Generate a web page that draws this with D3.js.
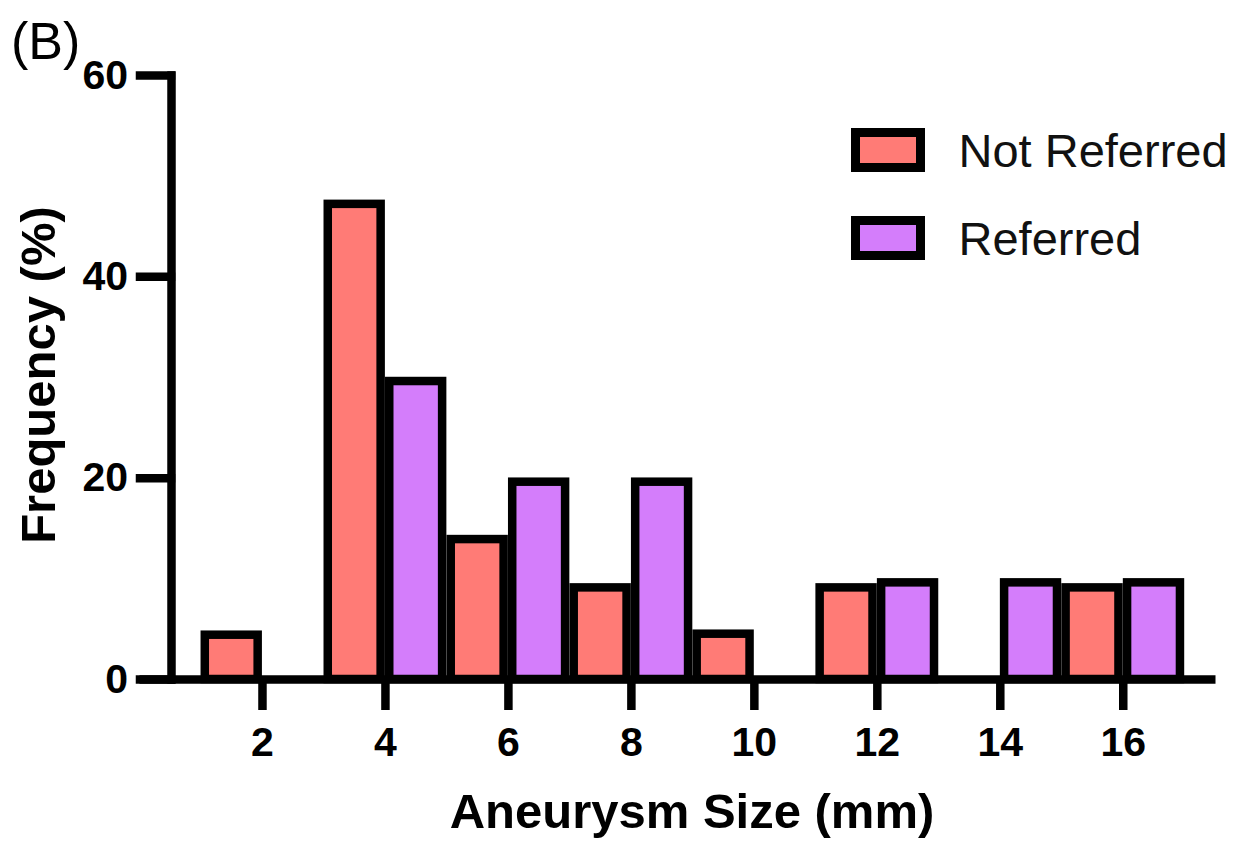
<!DOCTYPE html>
<html>
<head>
<meta charset="utf-8">
<script src="https://cdn.jsdelivr.net/npm/d3@7"></script>
<style>
  body { margin: 0; background: #fff; }
  svg { display: block; font-family: "Liberation Sans", Arial, sans-serif; }
</style>
</head>
<body>
<div id="chart"></div>
<script>
// histogram bins (mm) and frequencies (%)
const bins = [2, 4, 6, 8, 10, 12, 14, 16];
const notReferred = [4.4, 47.2, 13.9, 9.1, 4.5, 9.1, 0, 9.1];
const referred = [0, 29.6, 19.6, 19.6, 0, 9.6, 9.6, 9.6];
const seriesNames = ["Not Referred", "Referred"];
const seriesColors = ["#ff7b76", "#d47dfb"];
const yTicks = [0, 20, 40, 60];

const width = 1247, height = 842;

const svg = d3.select("#chart")
  .append("svg")
  .attr("width", width)
  .attr("height", height);

const x = d3.scaleLinear().domain([0, 17.5]).range([139, 1215]);
const y = d3.scaleLinear().domain([0, 60]).range([679, 75]);

const stroke = 8.5;
const unit = x(1) - x(0);
const barW = unit * 0.86;

// flatten into marks: red sits left of the bin tick, purple right
const bars = [];
bins.forEach((b, i) => {
  if (notReferred[i] > 0) bars.push({ bin: b, off: -0.5, value: notReferred[i], s: 0 });
  if (referred[i] > 0) bars.push({ bin: b, off: 0.5, value: referred[i], s: 1 });
});

svg.selectAll("rect.bar")
  .data(bars)
  .join("rect")
  .attr("class", "bar")
  .attr("x", d => x(d.bin + d.off) - barW / 2)
  .attr("y", d => y(d.value))
  .attr("width", barW)
  .attr("height", d => y(0) - y(d.value))
  .attr("fill", d => seriesColors[d.s])
  .attr("stroke", "#000")
  .attr("stroke-width", stroke);

// x axis
const xAxis = svg.append("g")
  .attr("transform", `translate(0,${y(0)})`)
  .call(d3.axisBottom(x).tickValues(bins).tickSize(31).tickSizeOuter(0).tickPadding(17));

// y axis
const yAxis = svg.append("g")
  .attr("transform", "translate(171,0)")
  .call(d3.axisLeft(y).tickValues(yTicks).tickSize(31).tickSizeOuter(0).tickPadding(12));

[xAxis, yAxis].forEach(ax => {
  ax.select(".domain").attr("stroke", "#000").attr("stroke-width", stroke);
  ax.selectAll(".tick line").attr("stroke", "#000").attr("stroke-width", stroke);
  ax.selectAll(".tick text")
    .attr("fill", "#000")
    .style("font-size", "41px")
    .style("font-weight", "bold")
    .style("font-family", "'Liberation Sans', Arial, sans-serif");
});
yAxis.select(".domain").attr("stroke-linecap", "square");
yAxis.selectAll(".tick line").attr("stroke-linecap", "square");

// axis titles
svg.append("text")
  .attr("x", 692)
  .attr("y", 828)
  .attr("text-anchor", "middle")
  .style("font-size", "49px")
  .style("font-weight", "bold")
  .text("Aneurysm Size (mm)");

svg.append("text")
  .attr("transform", "translate(55,375) rotate(-90)")
  .attr("text-anchor", "middle")
  .style("font-size", "49px")
  .style("font-weight", "bold")
  .text("Frequency (%)");

// panel label
svg.append("text")
  .attr("x", 11)
  .attr("y", 59)
  .style("font-size", "52px")
  .text("(B)");

// legend
const legend = svg.append("g")
  .selectAll("g")
  .data(seriesNames)
  .join("g")
  .attr("transform", (d, i) => `translate(855.5,${132.5 + i * 88})`);

legend.append("rect")
  .attr("width", 65)
  .attr("height", 35)
  .attr("fill", (d, i) => seriesColors[i])
  .attr("stroke", "#000")
  .attr("stroke-width", 9);

legend.append("text")
  .attr("x", 103)
  .attr("y", 34)
  .style("font-size", "47px")
  .attr("fill", "#111")
  .text(d => d);
</script>
</body>
</html>
